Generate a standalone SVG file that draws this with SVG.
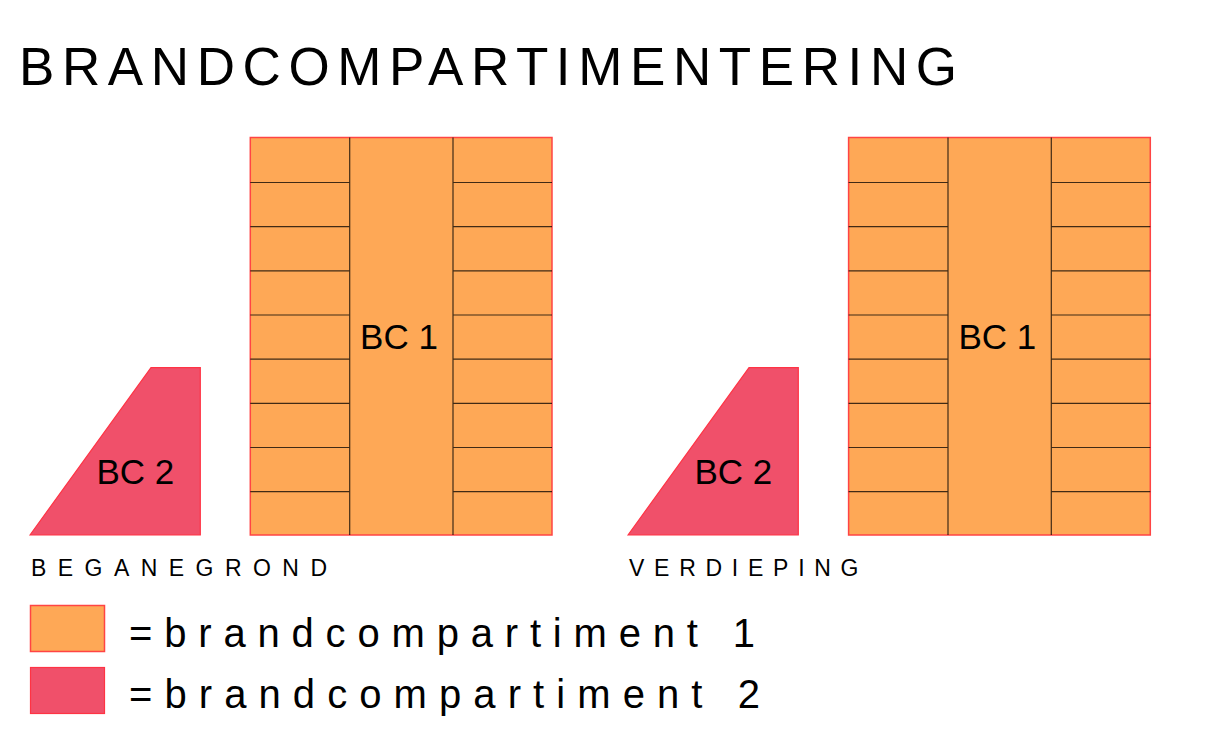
<svg xmlns="http://www.w3.org/2000/svg" width="1213" height="732" viewBox="0 0 1213 732">
<defs>
<style>
.bc1{fill:#FEA856;stroke:#FF4444;stroke-width:1.5}
.bc2{fill:#F0506A;stroke:#FF3344;stroke-width:1.2}
.div{stroke:#000;stroke-opacity:0.75;stroke-width:1.2;fill:none}
text{font-family:"Liberation Sans",Arial,sans-serif;fill:#000}
.title{font-size:53px}
.lbl{font-size:35px}
.floor{font-size:23px}
.leg{font-size:40px}
</style>
<g id="bldg">
<rect class="bc1" x="250.3" y="137.5" width="301.7" height="397.5"/>
<path class="div" d="M349.7 137.5V535M453 137.5V535
M250.3 182.5H349.7M453 182.5H552
M250.3 226.7H349.7M453 226.7H552
M250.3 270.8H349.7M453 270.8H552
M250.3 315H349.7M453 315H552
M250.3 359.2H349.7M453 359.2H552
M250.3 403.3H349.7M453 403.3H552
M250.3 447.5H349.7M453 447.5H552
M250.3 491.7H349.7M453 491.7H552"/>
</g>
<polygon id="tri" class="bc2" points="30,535 151,367.7 200.3,367.7 200.3,535"/>
</defs>
<text class="title" x="19" y="85" textLength="938" lengthAdjust="spacing">BRANDCOMPARTIMENTERING</text>
<g id="begane-bc2"><use href="#tri"/><text class="lbl" x="135.3" y="484.3" text-anchor="middle">BC 2</text></g>
<g id="begane-bc1"><use href="#bldg"/><text class="lbl" x="399" y="349.3" text-anchor="middle">BC 1</text></g>
<text class="floor" x="31" y="575.7" textLength="296" lengthAdjust="spacing">BEGANEGROND</text>
<g id="verdieping-bc2"><use href="#tri" x="598"/><text class="lbl" x="733.3" y="484.3" text-anchor="middle">BC 2</text></g>
<g id="verdieping-bc1"><use href="#bldg" x="598.3"/><text class="lbl" x="997.3" y="349.3" text-anchor="middle">BC 1</text></g>
<text class="floor" x="629" y="575.7" textLength="229.5" lengthAdjust="spacing">VERDIEPING</text>
<g id="legend1"><rect class="bc1" x="30.5" y="605.5" width="74" height="46"/><text class="leg" x="129" y="647" textLength="626" lengthAdjust="spacing">=brandcompartiment 1</text></g>
<g id="legend2"><rect class="bc2" x="30.5" y="667.5" width="74" height="46"/><text class="leg" x="129" y="708.3" textLength="631" lengthAdjust="spacing">=brandcompartiment 2</text></g>
<g id="connectors"/>
</svg>
